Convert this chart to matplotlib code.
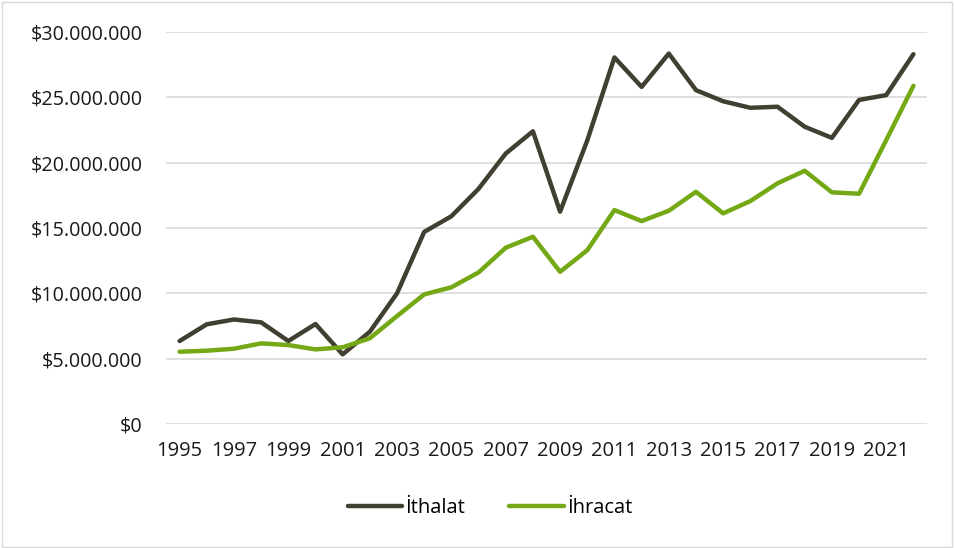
import matplotlib
matplotlib.use("Agg")
import matplotlib.pyplot as plt
from matplotlib.ticker import FuncFormatter, MultipleLocator
from matplotlib.patches import Rectangle

# yillar ve degerler (USD)
years = list(range(1995, 2023))
ithalat = [6.35, 7.63, 8.0, 7.78, 6.35, 7.65, 5.33, 7.06, 10.0, 14.7, 15.9, 18.0, 20.7, 22.4,
           16.25, 21.7, 28.05, 25.8, 28.35, 25.55, 24.7, 24.2, 24.28, 22.75, 21.9, 24.8, 25.17, 28.3]
ihracat = [5.53, 5.61, 5.76, 6.17, 6.04, 5.71, 5.87, 6.56, 8.26, 9.92, 10.46, 11.6, 13.49, 14.33,
           11.65, 13.3, 16.37, 15.53, 16.32, 17.77, 16.12, 17.06, 18.42, 19.38, 17.73, 17.62, 21.73, 25.88]
ithalat = [v * 1e6 for v in ithalat]
ihracat = [v * 1e6 for v in ihracat]
xtick_years = years[::2]

plt.rcParams['font.family'] = ['Open Sans', 'DejaVu Sans']

fig = plt.figure(figsize=(9.55, 5.48), dpi=100)
ax = fig.add_axes([166/955, 1 - 424/548, (927-166)/955, (424-32)/548])

ax.plot(years, ithalat, color="#403F31", lw=3.2, label="İthalat", solid_capstyle="round", zorder=3)
ax.plot(years, ihracat, color="#74A815", lw=3.2, label="İhracat", solid_capstyle="round", zorder=3)

ax.set_xlim(1994.5, 2022.5)
ax.set_ylim(0, 30e6)
ax.yaxis.set_major_locator(MultipleLocator(5e6))
ax.yaxis.set_major_formatter(FuncFormatter(lambda v, p: "$" + f"{int(v):,}".replace(",", ".")))
ax.set_xticks(xtick_years)
ax.tick_params(length=0, colors="#1a1a1a")
ax.tick_params(axis="x", pad=12, labelsize=14.5)
ax.tick_params(axis="y", pad=17, labelsize=14.2)
ax.grid(axis="y", color="#D9D9D9", lw=1.2)
ax.set_axisbelow(True)
for s in ax.spines.values():
    s.set_visible(False)

leg = ax.legend(loc="center", bbox_to_anchor=(490/955, 1 - 508/548), bbox_transform=fig.transFigure,
                ncol=2, frameon=False, fontsize=14.5, handlelength=2.7, columnspacing=2.2, handletextpad=0.15)

fig.patches.append(Rectangle((0.002, 0.002), 0.995, 0.995, transform=fig.transFigure,
                             fill=False, edgecolor="#D9D9D9", lw=1))

fig.savefig("out.png", dpi=100)
